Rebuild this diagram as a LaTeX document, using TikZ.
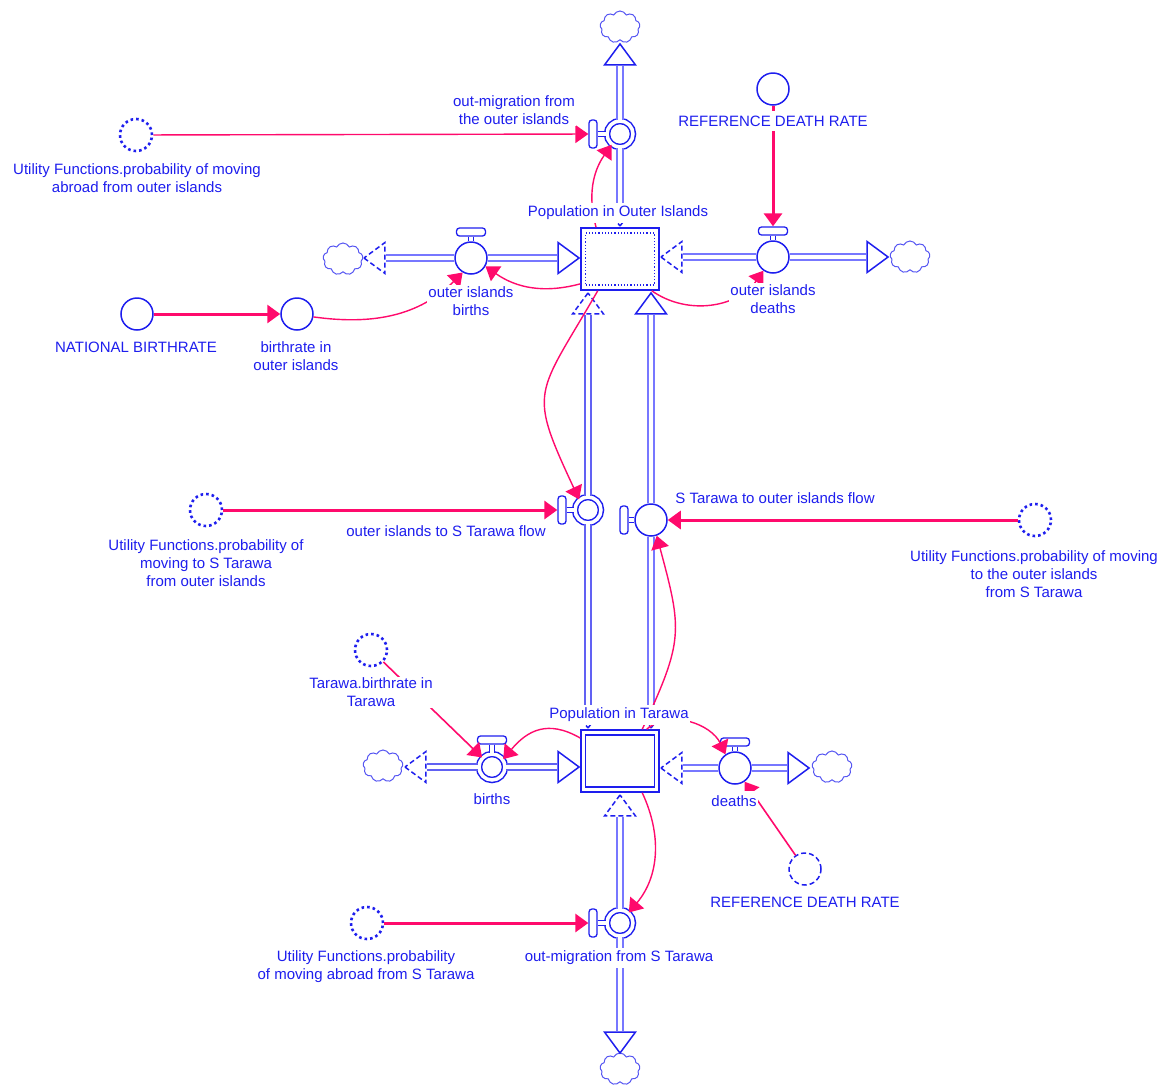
\documentclass[tikz,border=0pt]{standalone}
\usepackage{fontspec}
\setmainfont{Liberation Sans}
\usetikzlibrary{arrows.meta,shapes.geometric,shapes.symbols}
\definecolor{vblue}{HTML}{1E1EEE}
\definecolor{pipeblue}{HTML}{7777FF}
\definecolor{linkpink}{HTML}{FF0A6C}
\tikzset{
 aux/.style={circle,draw=vblue,line width=1.5pt,minimum size=32pt,inner sep=0pt},
 ghost/.style={aux,line width=2.6pt,dash pattern=on 2.6pt off 3pt},
 ghostdash/.style={aux,dash pattern=on 5pt off 3pt},
 valve/.style={aux},
 valvein/.style={aux,minimum size=26pt,double=white,double distance=3.5pt},
 handle/.style={rectangle,rounded corners=3pt,draw=vblue,line width=1.3pt,minimum width=29pt,minimum height=8pt,inner sep=0pt},
 handlev/.style={handle,minimum width=8pt,minimum height=28pt},
 stem/.style={draw=vblue,line width=1pt,double=white,double distance=3.5pt},
 stock/.style={rectangle,draw=vblue,line width=1.6pt,minimum width=78pt,minimum height=62pt,inner sep=0pt},
 stockin/.style={rectangle,draw=vblue,minimum width=69pt,minimum height=52pt,inner sep=0pt},
 cloudy/.style={cloud,cloud puffs=9,cloud puff arc=130,aspect=1.3,draw=vblue!75,line width=1pt,minimum width=40pt,minimum height=32pt,inner sep=0pt},
 head/.style={isosceles triangle,isosceles triangle stretches,draw=vblue,line width=1.5pt,minimum height=21pt,minimum width=31pt,inner sep=0pt,anchor=apex},
 headdash/.style={head,dash pattern=on 5pt off 3pt},
 pipe/.style={draw=pipeblue,line width=1.8pt,double=white,double distance=4.4pt},
 pipedark/.style={pipe,draw=vblue!70},
 link/.style={draw=linkpink,line width=1.4pt,-{Triangle[length=13pt,width=18pt]}},
 linkthick/.style={link,line width=3pt},
 tag/.style={fill=white,text=vblue,font=\fontsize{15}{18}\selectfont,align=center,inner sep=1pt,minimum height=20pt}
}
\begin{document}
\begin{tikzpicture}[x=1pt,y=-1pt]
 \useasboundingbox (0,0) rectangle (1163,1085);

 \node [stock] (po) at (620,259) {};
 \node [stockin,dotted,line width=1.2pt] (poin) at (620,259) {};
 \node [stock] (pt) at (620,761) {};
 \node [stockin,line width=1.6pt] (ptin) at (620,761) {};

 \node [valvein] (vo) at (620,134) {};
 \node [handlev] (hvo) at (593,134) {};
 \node [valve] (vob) at (471,258) {};
 \node [handle] (hvob) at (471,232) {};
 \node [valve] (vod) at (773,257) {};
 \node [handle] (hvod) at (773,231) {};
 \node [valvein] (vl) at (588,510) {};
 \node [handlev] (hvl) at (562,510) {};
 \node [valve] (vr) at (651,520) {};
 \node [handlev] (hvr) at (624,520) {};
 \node [valvein] (vb) at (492,767) {};
 \node [handle] (hvb) at (492,740) {};
 \node [valve] (vd) at (735,768) {};
 \node [handle] (hvd) at (735,742) {};
 \node [valvein] (vm) at (620,923) {};
 \node [handlev] (hvm) at (593,923) {};

 \node [cloudy] (c1) at (620,27) {};
 \node [cloudy] (c2) at (343,259) {};
 \node [cloudy] (c3) at (910,257) {};
 \node [cloudy] (c4) at (383,766) {};
 \node [cloudy] (c5) at (832,767) {};
 \node [cloudy] (c6) at (620,1069) {};

 \node [head,rotate=90] (h1) at (620,42) {};
 \node [headdash,rotate=-90] (h2) at (620,228) {};
 \node [headdash,rotate=180] (h3) at (362,258) {};
 \node [head] (h4) at (581,258) {};
 \node [headdash,rotate=180] (h5) at (659,257) {};
 \node [head] (h6) at (890,257) {};
 \node [headdash,rotate=90] (h7) at (588,291) {};
 \node [head,rotate=90] (h8) at (651,291) {};
 \node [headdash,rotate=-90] (h9) at (588,730) {};
 \node [headdash,rotate=-90] (h10) at (651,730) {};
 \node [headdash,rotate=180] (h11) at (403,767) {};
 \node [head] (h12) at (581,767) {};
 \node [headdash,rotate=180] (h13) at (659,768) {};
 \node [head] (h14) at (811,768) {};
 \node [headdash,rotate=90] (h15) at (620,793) {};
 \node [head,rotate=-90] (h16) at (620,1055) {};

 \path (vo) edge [pipe] (h1.lower side);
 \path (vo) edge [pipe] (h2.lower side);
 \path (vob) edge [pipe] (h3.lower side);
 \path (vob) edge [pipe] (h4.lower side);
 \path (vod) edge [pipe] (h5.lower side);
 \path (vod) edge [pipe] (h6.lower side);
 \path (vl) edge [pipedark] (h7.lower side);
 \path (vl) edge [pipedark] (h9.lower side);
 \path (vr) edge [pipe] (h8.lower side);
 \path (vr) edge [pipe] (h10.lower side);
 \path (vb) edge [pipedark] (h11.lower side);
 \path (vb) edge [pipedark] (h12.lower side);
 \path (vd) edge [pipe] (h13.lower side);
 \path (vd) edge [pipe] (h14.lower side);
 \path (vm) edge [pipe] (h15.lower side);
 \path (vm) edge [pipe] (h16.lower side);

 \path (hvo) edge [stem] (vo);
 \path (hvob) edge [stem] (vob);
 \path (hvod) edge [stem] (vod);
 \path (hvl) edge [stem] (vl);
 \path (hvr) edge [stem] (vr);
 \path (hvb) edge [stem] (vb);
 \path (hvd) edge [stem] (vd);
 \path (hvm) edge [stem] (vm);

 \node [ghost] (g1) at (136,135) {};
 \node [ghost] (g2) at (206,510) {};
 \node [ghost] (g3) at (1035,520) {};
 \node [ghost] (g4) at (371,650) {};
 \node [ghost] (g5) at (367,923) {};
 \node [ghostdash] (g6) at (805,869) {};
 \node [aux] (a1) at (773,89) {};
 \node [aux] (a2) at (137,314) {};
 \node [aux] (a3) at (297,314) {};

 \path (g1) edge [link] (hvo);
 \path (a1) edge [linkthick] (hvod);
 \path (a2) edge [linkthick] (a3);
 \path (g2) edge [linkthick] (hvl);
 \path (g3) edge [linkthick] (vr);
 \path (g4) edge [link,line width=1.6pt] (vb);
 \path (g5) edge [linkthick] (hvm);
 \path (g6) edge [link,line width=1.6pt] (vd.-55);

 \path (po.127) edge [link,out=105,in=235] (vo.232);
 \path (po.-148) edge [link,out=195,in=-35] (vob.-30);
 \path (a3.-10) edge [link,out=-8,in=225] (vob.-120);
 \path (po.-45) edge [link,out=-35,in=235] (vod.-125);
 \path (po.-125) edge [link,out=240,in=115,looseness=1.5] (vl.130);
 \path (pt.55) edge [link,out=65,in=-75,looseness=1.3] (vr.-70);
 \path (pt.150) edge [link,out=150,in=50,looseness=1.2] (vb.35);
 \path (pt.50) edge [link,out=40,in=115] (vd.125);
 \path (pt.-55) edge [link,out=-65,in=50] (vm.50);

 \node [tag] (l1) at (514,110) {out-migration from\\the outer islands};
 \node [tag] (l2) at (137,178) {Utility Functions.probability of moving\\abroad from outer islands};
 \node [tag] (l3) at (773,121) {REFERENCE DEATH RATE};
 \node [tag] (l4) at (618,212.5) {Population in Outer Islands};
 \node [tag] (l5) at (471,301) {outer islands\\births};
 \node [tag] (l6) at (773,299) {outer islands\\deaths};
 \node [tag] (l7) at (136,347) {NATIONAL BIRTHRATE};
 \node [tag] (l8) at (296,356) {birthrate in\\outer islands};
 \node [tag] (l9) at (446,531) {outer islands to S Tarawa flow};
 \node [tag] (l10) at (775,498) {S Tarawa to outer islands flow};
 \node [tag] (l11) at (206,563) {Utility Functions.probability of\\moving to S Tarawa\\from outer islands};
 \node [tag] (l12) at (1034,574) {Utility Functions.probability of moving\\to the outer islands\\from S Tarawa};
 \node [tag] (l13) at (371,692) {Tarawa.birthrate in\\Tarawa};
 \node [tag] (l14) at (619,714.5) {Population in Tarawa};
 \node [tag] (l15) at (492,799) {births};
 \node [tag] (l16) at (734,801) {deaths};
 \node [tag] (l17) at (805,902) {REFERENCE DEATH RATE};
 \node [tag] (l18) at (366,967) {Utility Functions.probability\\of moving abroad from S Tarawa};
 \node [tag] (l19) at (619,957.5) {out-migration from S Tarawa};
\end{tikzpicture}
\end{document}
